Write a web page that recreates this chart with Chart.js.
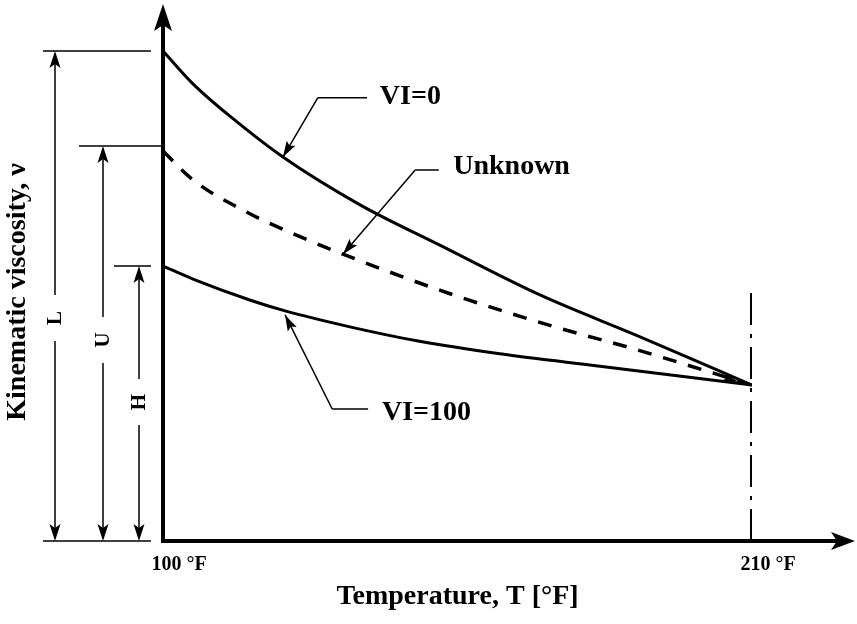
<!DOCTYPE html>
<html>
<head>
  <meta charset="utf-8">
  <title>Kinematic viscosity vs temperature</title>
  <script src="https://cdn.jsdelivr.net/npm/chart.js"></script>
  <style>
    body { margin: 0; background: #fff; }
    canvas { display: block; }
  </style>
</head>
<body>
  <canvas id="chart" width="857" height="624"></canvas>

  <script>
    // temperatures (°F) and viscosity (arbitrary units)
    const vi0Temps = [100, 105.6, 112.5, 122.4, 136.8, 151.7, 170.4, 189.1, 210];
    const vi0Visc = [98.4, 91.8, 85.3, 77.1, 67.5, 59.4, 49.4, 41.0, 31.3];

    const unkTemps = [100, 105.6, 114.8, 124.1, 133.6, 153.2, 173.2, 188.5, 210];
    const unkVisc = [78.3, 72.5, 66.5, 61.8, 57.6, 49.8, 43.0, 38.4, 31.3];

    const vi100Temps = [100, 105.6, 116.2, 122.8, 134.9, 147.4, 162.9, 181.6, 210];
    const vi100Visc = [55.2, 52.6, 48.4, 46.2, 43.0, 40.2, 37.6, 35.1, 31.3];

    const tickTemps = [100, 210];
    const tickLabels = ["100 °F", "210 °F"];

    // reference line at 210 °F
    const refTemps = [210, 210];
    const refVisc = [0, 50.4];

    // dimension bars L / U / H on the left
    const dimLabels = ["L", "U", "H"];
    const dimTops = [98.4, 79.3, 55.2];

    const FONT = "'Liberation Serif', 'Times New Roman', serif";

    const pts = (xs, ys) => xs.map((x, i) => ({ x, y: ys[i] }));

    const arrowHead = (ctx, tx, ty, ang, len, hw, notch) => {
      const c = Math.cos(ang), s = Math.sin(ang);
      const bx = tx - c * len, by = ty - s * len;
      ctx.beginPath();
      ctx.moveTo(tx, ty);
      ctx.lineTo(bx - s * hw, by + c * hw);
      ctx.lineTo(tx - c * (len - notch), ty - s * (len - notch));
      ctx.lineTo(bx + s * hw, by - c * hw);
      ctx.closePath();
      ctx.fill();
    };

    const line = (ctx, x1, y1, x2, y2, w) => {
      ctx.lineWidth = w;
      ctx.beginPath();
      ctx.moveTo(x1, y1);
      ctx.lineTo(x2, y2);
      ctx.stroke();
    };

    const sketch = {
      id: "sketch",
      afterDraw(chart) {
        const { ctx, chartArea: a, scales: { x, y } } = chart;
        ctx.save();
        ctx.strokeStyle = "#000";
        ctx.fillStyle = "#000";
        ctx.lineCap = "butt";

        // axes with arrows
        line(ctx, a.left, a.bottom + 2, a.left, 20, 4);
        arrowHead(ctx, a.left, 4, -Math.PI / 2, 27, 9, 6);
        line(ctx, a.left - 2, a.bottom, a.right + 85, a.bottom, 4);
        arrowHead(ctx, a.right + 103, a.bottom, 0, 24, 9, 6);

        // dimension bars
        const barX = [55, 103, 139];
        const extL = [43, 79, 114];
        const extR = [151, 161, 151];
        const labY = [318, 340, 402];
        const yb = y.getPixelForValue(0);
        line(ctx, 43, yb, 151, yb, 1.5);
        dimLabels.forEach((lab, i) => {
          const yt = y.getPixelForValue(dimTops[i]);
          line(ctx, extL[i], yt, extR[i], yt, 1.5);
          line(ctx, barX[i], yt + 10, barX[i], labY[i] - 23, 1.5);
          line(ctx, barX[i], labY[i] + 23, barX[i], yb - 10, 1.5);
          arrowHead(ctx, barX[i], yt, -Math.PI / 2, 17, 5.5, 4);
          arrowHead(ctx, barX[i], yb, Math.PI / 2, 17, 5.5, 4);
          ctx.save();
          ctx.translate(barX[i], labY[i]);
          ctx.rotate(-Math.PI / 2);
          ctx.font = "bold 21px " + FONT;
          ctx.textAlign = "center";
          ctx.textBaseline = "middle";
          ctx.fillText(lab, 0, 1);
          ctx.restore();
        });

        // leaders to the curves: [tipT, tipV, elbowT, elbowV, endT, labelT, labelV, text]
        const leaders = [
          [122.4, 77.1, 128.9, 89.0, 138.1, 140.5, 89.3, "VI=0"],
          [133.6, 57.6, 147.1, 74.5, 151.5, 154.2, 75.1, "Unknown"],
          [122.8, 45.4, 131.6, 26.5, 138.3, 140.9, 25.7, "VI=100"],
        ];
        ctx.font = "bold 28px " + FONT;
        ctx.textAlign = "left";
        ctx.textBaseline = "middle";
        leaders.forEach(([tT, tV, eT, eV, nT, lT, lV, text]) => {
          const tx = x.getPixelForValue(tT), ty = y.getPixelForValue(tV);
          const ex = x.getPixelForValue(eT), ey = y.getPixelForValue(eV);
          const nx = x.getPixelForValue(nT);
          line(ctx, nx, ey, ex, ey, 1.5);
          line(ctx, ex, ey, tx, ty, 1.5);
          arrowHead(ctx, tx, ty, Math.atan2(ty - ey, tx - ex), 16, 5, 3);
          ctx.fillText(text, x.getPixelForValue(lT), y.getPixelForValue(lV));
        });

        // small arrow at the end of the dashed curve
        const ax = x.getPixelForValue(207.5), ay = y.getPixelForValue(32.0);
        const bx = x.getPixelForValue(203), by = y.getPixelForValue(33.4);
        arrowHead(ctx, ax, ay, Math.atan2(ay - by, ax - bx), 16, 4, 3);

        ctx.restore();
      },
    };

    new Chart(document.getElementById("chart"), {
      type: "line",
      data: {
        datasets: [
          {
            label: "VI=0",
            data: pts(vi0Temps, vi0Visc),
            borderColor: "#000",
            borderWidth: 3,
            cubicInterpolationMode: "monotone",
          },
          {
            label: "Unknown",
            data: pts(unkTemps, unkVisc),
            borderColor: "#000",
            borderWidth: 3.5,
            borderDash: [14, 12],
            cubicInterpolationMode: "monotone",
          },
          {
            label: "VI=100",
            data: pts(vi100Temps, vi100Visc),
            borderColor: "#000",
            borderWidth: 3,
            cubicInterpolationMode: "monotone",
          },
          {
            label: "210 °F",
            data: pts(refTemps, refVisc),
            borderColor: "#000",
            borderWidth: 4,
            borderDash: [32, 9, 4, 9],
          },
        ],
      },
      options: {
        responsive: false,
        animation: false,
        layout: { padding: { top: 43, right: 105, left: 0, bottom: 0 } },
        elements: { point: { radius: 0 }, line: { fill: false } },
        plugins: { legend: { display: false }, tooltip: { enabled: false } },
        scales: {
          x: {
            type: "linear",
            min: 100,
            max: 210,
            afterBuildTicks: (s) => { s.ticks = tickTemps.map((v) => ({ value: v })); },
            afterFit: (s) => { s.height = 83; },
            grid: { display: false, drawTicks: false },
            border: { display: false },
            ticks: {
              autoSkip: false,
              maxRotation: 0,
              padding: 12,
              labelOffset: 16,
              color: "#000",
              font: { family: FONT, size: 20, weight: "bold" },
              callback: (v) => tickLabels[tickTemps.indexOf(v)],
            },
            title: {
              display: true,
              text: "Temperature, T [°F]",
              color: "#000",
              font: { family: FONT, size: 28, weight: "bold" },
              padding: { top: 0, bottom: 10 },
            },
          },
          y: {
            min: 0,
            max: 100,
            afterFit: (s) => { s.width = 163; },
            grid: { display: false, drawTicks: false },
            border: { display: false },
            ticks: { display: false },
            title: {
              display: true,
              text: "Kinematic viscosity, ν",
              color: "#000",
              font: { family: FONT, size: 28, weight: "bold" },
              padding: { top: 1, bottom: 0 },
            },
          },
        },
      },
      plugins: [sketch],
    });
  </script>
</body>
</html>
